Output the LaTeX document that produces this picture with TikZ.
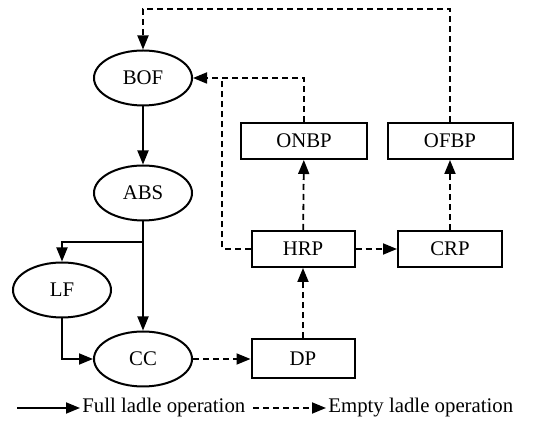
\documentclass[tikz,border=0pt]{standalone}
\usepackage{fontspec}
\setmainfont{Liberation Serif}
\usetikzlibrary{arrows.meta,positioning,shapes.geometric,calc}
\tikzset{
  >={Triangle[length=7pt,width=5.5pt]},
  lunit/.style={ellipse, draw=black, line width=1pt, minimum width=49pt,
                minimum height=27.5pt, inner sep=0pt, font=\fontsize{10.4}{12}\selectfont},
  lbox/.style={rectangle, draw=black, line width=1pt, minimum width=51.5pt,
               minimum height=18pt, inner sep=0pt, font=\fontsize{10.4}{12}\selectfont},
  lfull/.style={->, line width=0.9pt},
  lempty/.style={->, line width=0.9pt, dash pattern=on 3pt off 2pt},
  llbl/.style={font=\fontsize{10.4}{12}\selectfont, inner sep=1pt, anchor=west},
}
\begin{document}
\begin{tikzpicture}[x=0.5pt,y=-0.5pt]
  \useasboundingbox (0,0) rectangle (557,421);

  % unidades
  \node[lunit] (BOF) at (143,78)  {BOF};
  \node[lunit] (ABS) at (143,193) {ABS};
  \node[lunit] (LF)  at (62,290)  {LF};
  \node[lunit] (CC)  at (143,359) {CC};

  % caixas
  \node[lbox] (DP)  at (303,359) [minimum height=19.5pt] {DP};
  \node[lbox] (HRP) at (303,249) {HRP};
  \node[lbox] (CRP) at (450,249) [minimum width=52pt] {CRP};
  \node[lbox] (ONBP) at (304,141) [minimum width=63pt] {ONBP};
  \node[lbox] (OFBP) at (450,141) [minimum width=62.5pt] {OFBP};

  \coordinate (top) at (0,9);
  \coordinate (split) at (143,242);
  \coordinate (back) at (222,78);

  % panela cheia
  \draw[lfull] (BOF) -- (ABS);
  \draw[lfull] (ABS) -- (CC);
  \draw[lfull] (split) -| (LF);
  \draw[lfull] (LF.south) |- (CC.west);

  % panela vazia
  \draw[lempty] (CC) -- (DP);
  \draw[lempty] (DP) -- (HRP);
  \draw[lempty] (HRP) -- (ONBP);
  \draw[lempty] (HRP) -- (CRP);
  \draw[lempty] (CRP) -- (OFBP);
  \draw[lempty, -] (HRP.west) -| (back);
  \draw[lempty] (ONBP.north) |- (BOF.east);
  \draw[lempty] (OFBP.north) |- (top -| BOF.north) -- (BOF.north);

  % legenda
  \coordinate (f0) at (17,408);
  \node[llbl] (f1) at (80,408) {Full ladle operation};
  \draw[lfull] (f0) -- (f1.west);
  \coordinate (e0) at (253,408);
  \node[llbl] (e1) at (326,408) {Empty ladle operation};
  \draw[lempty] (e0) -- (e1.west);
\end{tikzpicture}
\end{document}
